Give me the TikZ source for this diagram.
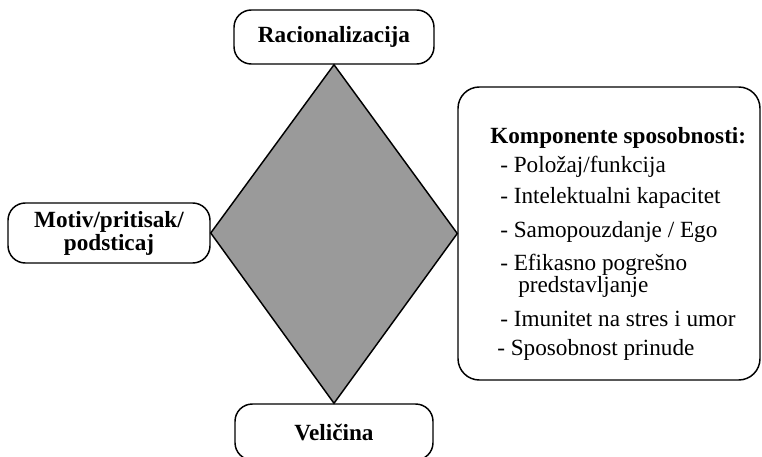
\documentclass[tikz,border=0pt]{standalone}
\usepackage{fontspec}
\setmainfont{Liberation Serif}
\definecolor{diamondgray}{HTML}{9A9A9A}
\begin{document}
\begin{tikzpicture}[x=0.75pt,y=-0.75pt,
  box/.style={draw=black, line width=1.1pt, fill=white, rounded corners=13pt, inner sep=0pt},
  lbl/.style={box, font=\fontsize{17.4}{17.3}\selectfont\bfseries, align=center},
  item/.style={anchor=base west, inner sep=0pt, font=\fontsize{17.4}{16}\selectfont},
]
\useasboundingbox (0,0) rectangle (762,456);
\begin{scope}
\clip (0,0) rectangle (762,456);
% boxes (positions)
\node[lbl, minimum width=150pt, minimum height=40.5pt] (rac) at (334,37) {Racionalizacija};
\node[lbl, minimum width=151.5pt, minimum height=45pt] (mot) at (109,233) {Motiv/pritisak/\\podsticaj};
\node[lbl, minimum width=148.5pt, minimum height=42pt] (vel) at (334,432) {Veličina};
\node[box, rounded corners=16pt, minimum width=226.5pt, minimum height=219.75pt] (komp) at (609,233.5) {};
% diamond
\draw[line width=1.1pt, fill=diamondgray, line join=miter]
  (rac.south) -- (komp.west) -- (vel.north) -- (mot.east) -- cycle;
% text of the components box
\node[item, font=\fontsize{17.4}{16}\selectfont\bfseries] (h) at (490,143) {Komponente sposobnosti:};
\node[item] (i1) at (500,172) {- Položaj/funkcija};
\node[item] (i2) at (500,203) {- Intelektualni kapacitet};
\node[item] (i3) at (500,237) {- Samopouzdanje / Ego};
\node[item] (i4) at (500,270) {- Efikasno pogrešno};
\node[item] (i4b) at (518,292) {predstavljanje};
\node[item] (i5) at (500,326) {- Imunitet na stres i umor};
\node[item] (i6) at (497,355) {- Sposobnost prinude};
\end{scope}
\end{tikzpicture}
\end{document}
